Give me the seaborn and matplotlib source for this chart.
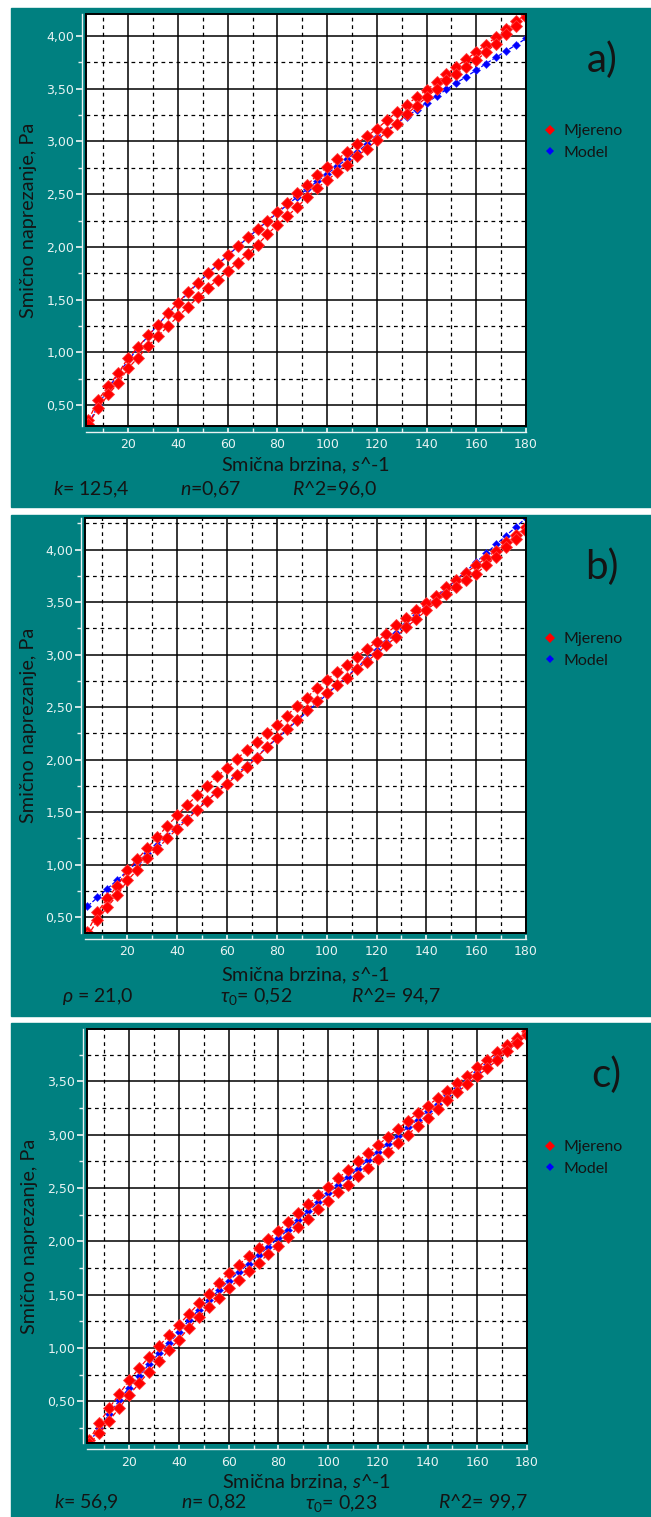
import pandas as pd
import matplotlib
matplotlib.use("Agg")
import matplotlib.pyplot as plt
import seaborn as sns
from matplotlib.lines import Line2D
from matplotlib.patches import Rectangle
from matplotlib.ticker import MultipleLocator, FixedLocator, FuncFormatter

# smicna brzina, s^-1 (ista za sve serije)
smicna_brzina = [4, 8, 12, 16, 20, 24, 28, 32, 36, 40, 44, 48, 52, 56, 60,
                 64, 68, 72, 76, 80, 84, 88, 92, 96, 100, 104, 108, 112, 116, 120,
                 124, 128, 132, 136, 140, 144, 148, 152, 156, 160, 164, 168, 172, 176, 180]

# mjerenje za a) i b) - uzlazna i silazna grana petlje
mjereno_ab_gore = [0.36, 0.55, 0.68, 0.80, 0.95, 1.05, 1.16, 1.26, 1.37, 1.47, 1.57, 1.66, 1.75, 1.84, 1.92,
                   2.01, 2.09, 2.17, 2.25, 2.33, 2.42, 2.51, 2.59, 2.68, 2.76, 2.83, 2.90, 2.98, 3.05, 3.12,
                   3.20, 3.28, 3.35, 3.42, 3.49, 3.56, 3.64, 3.71, 3.78, 3.85, 3.92, 3.99, 4.07, 4.14, 4.21]
mjereno_ab_dolje = [0.32, 0.47, 0.60, 0.71, 0.85, 0.95, 1.06, 1.15, 1.25, 1.34, 1.43, 1.52, 1.61, 1.69, 1.77,
                    1.85, 1.93, 2.02, 2.12, 2.21, 2.29, 2.38, 2.47, 2.56, 2.63, 2.71, 2.78, 2.86, 2.93, 3.01,
                    3.09, 3.17, 3.26, 3.34, 3.42, 3.50, 3.58, 3.64, 3.71, 3.77, 3.85, 3.93, 4.02, 4.10, 4.18]
model_a = [0.316, 0.501, 0.657, 0.796, 0.923, 1.042, 1.155, 1.263, 1.366, 1.465, 1.561, 1.654, 1.745, 1.832, 1.918,
           2.002, 2.085, 2.165, 2.245, 2.323, 2.399, 2.475, 2.549, 2.622, 2.693, 2.765, 2.834, 2.902, 2.972, 3.041,
           3.104, 3.173, 3.237, 3.301, 3.367, 3.431, 3.494, 3.556, 3.616, 3.677, 3.740, 3.800, 3.859, 3.917, 3.978]
model_b = [0.604, 0.688, 0.772, 0.856, 0.940, 1.024, 1.108, 1.192, 1.276, 1.360, 1.444, 1.528, 1.612, 1.696, 1.780,
           1.864, 1.948, 2.032, 2.116, 2.200, 2.284, 2.368, 2.452, 2.536, 2.620, 2.704, 2.788, 2.872, 2.956, 3.040,
           3.124, 3.208, 3.292, 3.376, 3.460, 3.544, 3.628, 3.712, 3.796, 3.880, 3.964, 4.048, 4.132, 4.216, 4.300]

# mjerenje i model za c)
mjereno_c_gore = [0.14, 0.30, 0.44, 0.57, 0.70, 0.81, 0.92, 1.02, 1.12, 1.22, 1.32, 1.42, 1.51, 1.61, 1.70,
                  1.78, 1.86, 1.94, 2.02, 2.10, 2.18, 2.27, 2.35, 2.43, 2.51, 2.59, 2.67, 2.75, 2.83, 2.90,
                  2.98, 3.05, 3.13, 3.20, 3.27, 3.34, 3.41, 3.48, 3.55, 3.63, 3.70, 3.77, 3.84, 3.91, 3.97]
mjereno_c_dolje = [0.11, 0.20, 0.32, 0.44, 0.56, 0.67, 0.78, 0.88, 0.98, 1.08, 1.19, 1.29, 1.38, 1.47, 1.56,
                   1.64, 1.72, 1.80, 1.88, 1.96, 2.04, 2.13, 2.21, 2.30, 2.38, 2.46, 2.53, 2.61, 2.69, 2.77,
                   2.84, 2.92, 3.00, 3.08, 3.16, 3.24, 3.32, 3.40, 3.47, 3.55, 3.62, 3.70, 3.78, 3.86, 3.93]
model_c = [0.12, 0.25, 0.38, 0.51, 0.63, 0.74, 0.85, 0.95, 1.05, 1.15, 1.26, 1.36, 1.45, 1.54, 1.63,
           1.71, 1.79, 1.87, 1.95, 2.03, 2.11, 2.20, 2.28, 2.37, 2.45, 2.53, 2.60, 2.68, 2.76, 2.84,
           2.91, 2.99, 3.07, 3.14, 3.22, 3.29, 3.37, 3.44, 3.51, 3.59, 3.66, 3.73, 3.81, 3.88, 3.95]

oznake = ["a)", "b)", "c)"]
parametri = [
    ["$k$= 125,4", "$n$=0,67", "$R$^2=96,0"],
    ["$\\rho$ = 21,0", "$\\tau_0$= 0,52", "$R$^2= 94,7"],
    ["$k$= 56,9", "$n$= 0,82", "$\\tau_0$= 0,23", "$R$^2= 99,7"],
]
ylim_paneli = [(0.30, 4.21), (0.35, 4.30), (0.11, 3.99)]

# raspored u pikselima (sirina 651, visina 1517)
W, H = 651, 1517
TEAL = "#008080"
okviri = [(8, 507), (515, 1016), (1023, 1517)]          # teal pozadina po y
osi = [(86, 526, 14, 426), (85, 526, 518, 933), (87, 527, 1029, 1443)]  # lijevo, desno, gore, dolje
oznaka_xy = [(602, 60), (602, 567), (606, 1075)]
legenda_y = [142, 650, 1158]
podnozje_y = [490, 997, 1503]
podnozje_x = [[53, 180, 292], [62, 220, 351], [54, 181, 305, 438]]
xlabel_y = [466, 976, 1483]

sns.set_theme(style="white")
plt.rcParams['font.family'] = ['Lato', 'DejaVu Sans']
plt.rcParams['mathtext.fontset'] = 'custom'
plt.rcParams['mathtext.rm'] = 'Lato'
plt.rcParams['mathtext.it'] = 'Lato:italic'

fig = plt.figure(figsize=(W / 100, H / 100), dpi=100)
fig.patch.set_facecolor("white")


def fx(x):
    return x / W


def fy(y):
    return 1 - y / H


serije = [
    (mjereno_ab_gore, mjereno_ab_dolje, model_a),
    (mjereno_ab_gore, mjereno_ab_dolje, model_b),
    (mjereno_c_gore, mjereno_c_dolje, model_c),
]

fmt = FuncFormatter(lambda v, p: f"{v:.2f}".replace(".", ","))
svijetla = "#e8f3f3"
tamna = "#141414"

for i in range(3):
    y0, y1 = okviri[i]
    fig.patches.append(Rectangle((fx(11), fy(y1)), (W - 11) / W, (y1 - y0) / H,
                                 transform=fig.transFigure, color=TEAL, zorder=-5))

    l, r, t, b = osi[i]
    ax = fig.add_axes([fx(l), fy(b), (r - l) / W, (b - t) / H])
    ax.set_zorder(2)
    ax.set_facecolor("white")

    gore, dolje, model = serije[i]
    petlja = pd.DataFrame({"brzina": smicna_brzina + smicna_brzina[::-1],
                           "napon": gore + dolje[::-1]})
    df_model = pd.DataFrame({"brzina": smicna_brzina, "napon": model})

    sns.lineplot(data=df_model, x="brzina", y="napon", sort=False, estimator=None, ax=ax,
                 color="#0000ff", marker="D", markersize=4.2, markeredgewidth=0.4,
                 markeredgecolor="#3030ff", linestyle="--", linewidth=0.9, zorder=3)
    sns.lineplot(data=petlja, x="brzina", y="napon", sort=False, estimator=None, ax=ax,
                 color="#ff0000", marker="D", markersize=5.8, markeredgewidth=0.6,
                 markeredgecolor="#ff3c3c", linestyle="--", linewidth=0.9, zorder=4)

    ax.set_xlim(3, 180)
    ax.set_ylim(*ylim_paneli[i])
    ax.xaxis.set_major_locator(MultipleLocator(20))
    ax.xaxis.set_minor_locator(FixedLocator(list(range(10, 180, 20))))
    ax.yaxis.set_major_locator(MultipleLocator(0.5))
    ax.yaxis.set_minor_locator(MultipleLocator(0.25))
    ax.yaxis.set_major_formatter(fmt)

    ax.set_axisbelow(True)
    ax.grid(which="major", color="black", linewidth=1.1, linestyle="-")
    ax.grid(which="minor", color="black", linewidth=0.9, linestyle=(0, (3, 3)))

    for s in ["top", "right"]:
        ax.spines[s].set_visible(False)
    ax.spines["left"].set_position(("outward", 3))
    ax.spines["bottom"].set_position(("outward", 4))
    for s in ["left", "bottom"]:
        ax.spines[s].set_color(svijetla)
        ax.spines[s].set_linewidth(1.0)
    ax.add_patch(Rectangle((0, 0), 1, 1, transform=ax.transAxes, fill=False,
                           edgecolor="black", linewidth=1.4, zorder=6, clip_on=False))

    ax.tick_params(axis="y", which="both", direction="out", color=svijetla, labelcolor=svijetla,
                   labelsize=9, pad=1.5, left=True)
    ax.tick_params(axis="y", which="major", length=4)
    ax.tick_params(axis="y", which="minor", length=3)
    ax.tick_params(axis="x", which="both", direction="in", color=svijetla, labelcolor=svijetla,
                   labelsize=9, pad=5, length=3, bottom=True)
    for lab in ax.get_xticklabels() + ax.get_yticklabels():
        lab.set_family("DejaVu Sans")

    ax.set_xlabel("Smična brzina, $s$^-1", fontsize=14.3, color=tamna)
    ax.xaxis.set_label_coords(0.5, (b - xlabel_y[i]) / (b - t))
    ax.xaxis.label.set_va("center")
    ax.set_ylabel("Smično naprezanje, Pa", fontsize=14.3, color=tamna)
    ax.yaxis.set_label_coords((29 - l) / (r - l), 0.5)
    ax.yaxis.label.set_va("center")

    ruke = [Line2D([], [], marker="D", ls="none", color="#ff0000", markersize=5.2, markeredgewidth=0),
            Line2D([], [], marker="D", ls="none", color="#0000ff", markersize=4.2, markeredgewidth=0)]
    ax.legend(ruke, ["Mjereno", "Model"], loc="center left",
              bbox_to_anchor=(fx(544), fy(legenda_y[i])), bbox_transform=fig.transFigure,
              frameon=False, fontsize=11.5, labelcolor=tamna, handlelength=0.7,
              handletextpad=0.5, labelspacing=0.45, borderpad=0, borderaxespad=0)

    ox, oy = oznaka_xy[i]
    fig.text(fx(ox), fy(oy), oznake[i], fontsize=29, ha="center", va="center", color=tamna)

    for tekst, px in zip(parametri[i], podnozje_x[i]):
        fig.text(fx(px), fy(podnozje_y[i]), tekst, fontsize=14, ha="left", va="center", color=tamna)

fig.savefig("out.png", dpi=100, facecolor="white")
